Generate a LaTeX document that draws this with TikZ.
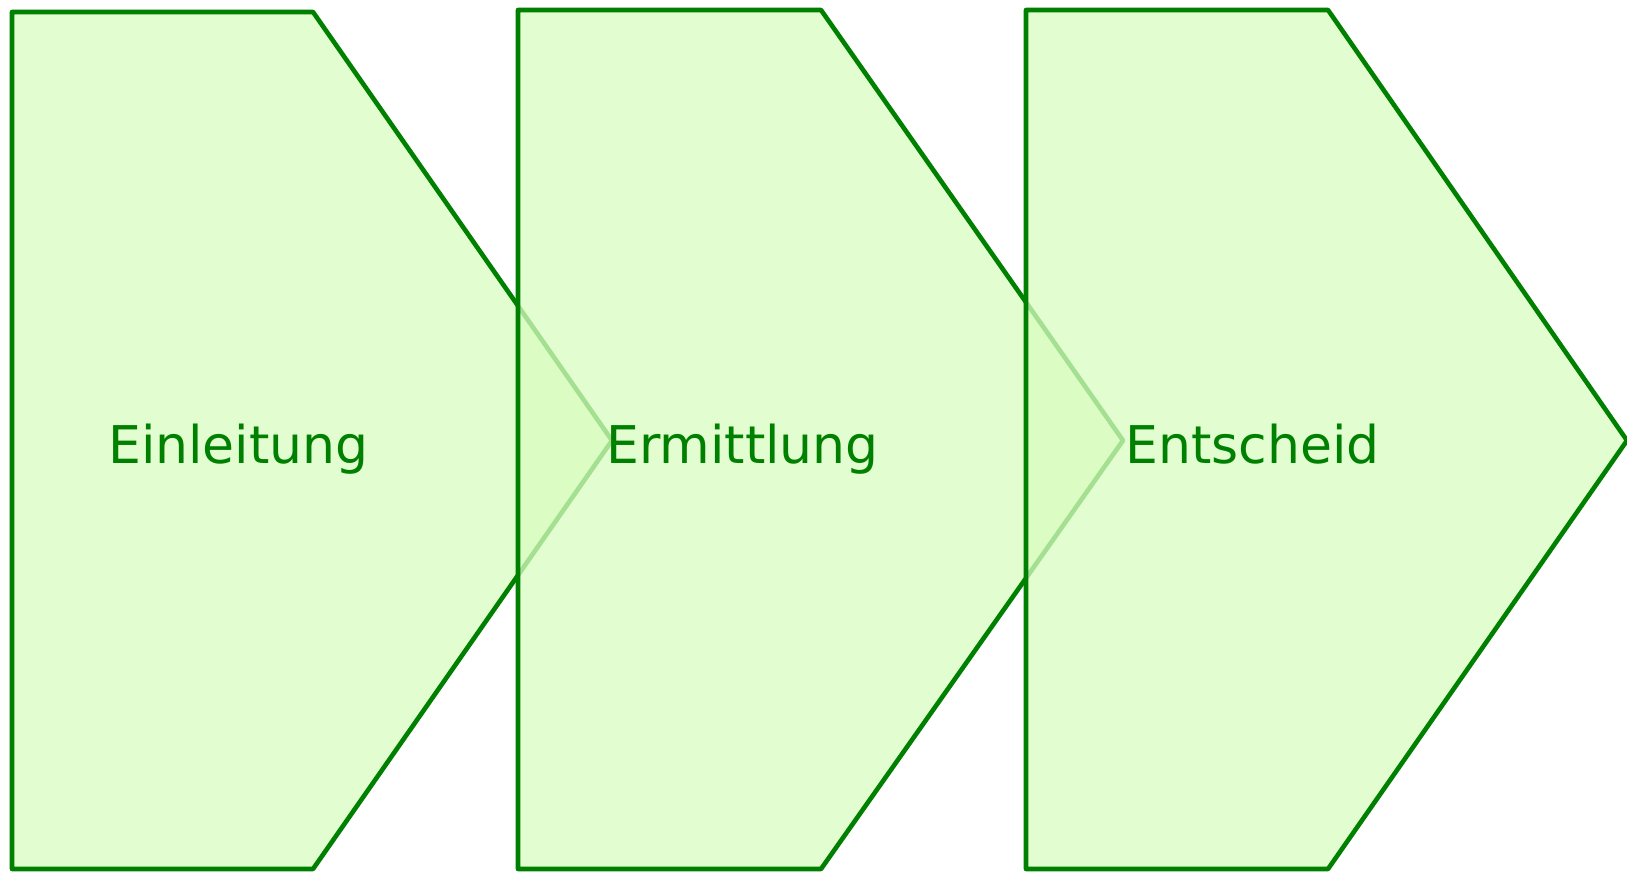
\documentclass[tikz,border=0pt]{standalone}
\usepackage{fontspec}
\setmainfont{DejaVu Sans}
\definecolor{stepline}{RGB}{0,128,0}
\definecolor{stepfill}{RGB}{217,253,193}
\begin{document}
\begin{tikzpicture}[x=1pt,y=-1pt,
  chevron/.style={draw=stepline, line width=4.6pt, line join=round, fill=stepfill, fill opacity=0.76},
  steplabel/.style={anchor=base west, inner sep=0pt, text=stepline, font=\fontsize{52}{60}\selectfont}]
\useasboundingbox (0,0) rectangle (1627,872);
\fill[white] (0,0) rectangle (1627,872);
\draw[chevron] (12,12) -- (313,12) -- (612,440.5) -- (313,869) -- (12,869) -- cycle;
\node[steplabel] (t1) at (108,463) {Einleitung};
\draw[chevron] (518,10) -- (821,10) -- (1123,440.5) -- (821,869) -- (518,869) -- cycle;
\node[steplabel] (t2) at (606,463) {Ermittlung};
\draw[chevron] (1026,10) -- (1328,10) -- (1627,440.5) -- (1328,869) -- (1026,869) -- cycle;
\node[steplabel] (t3) at (1125,463) {Entscheid};
\end{tikzpicture}
\end{document}
